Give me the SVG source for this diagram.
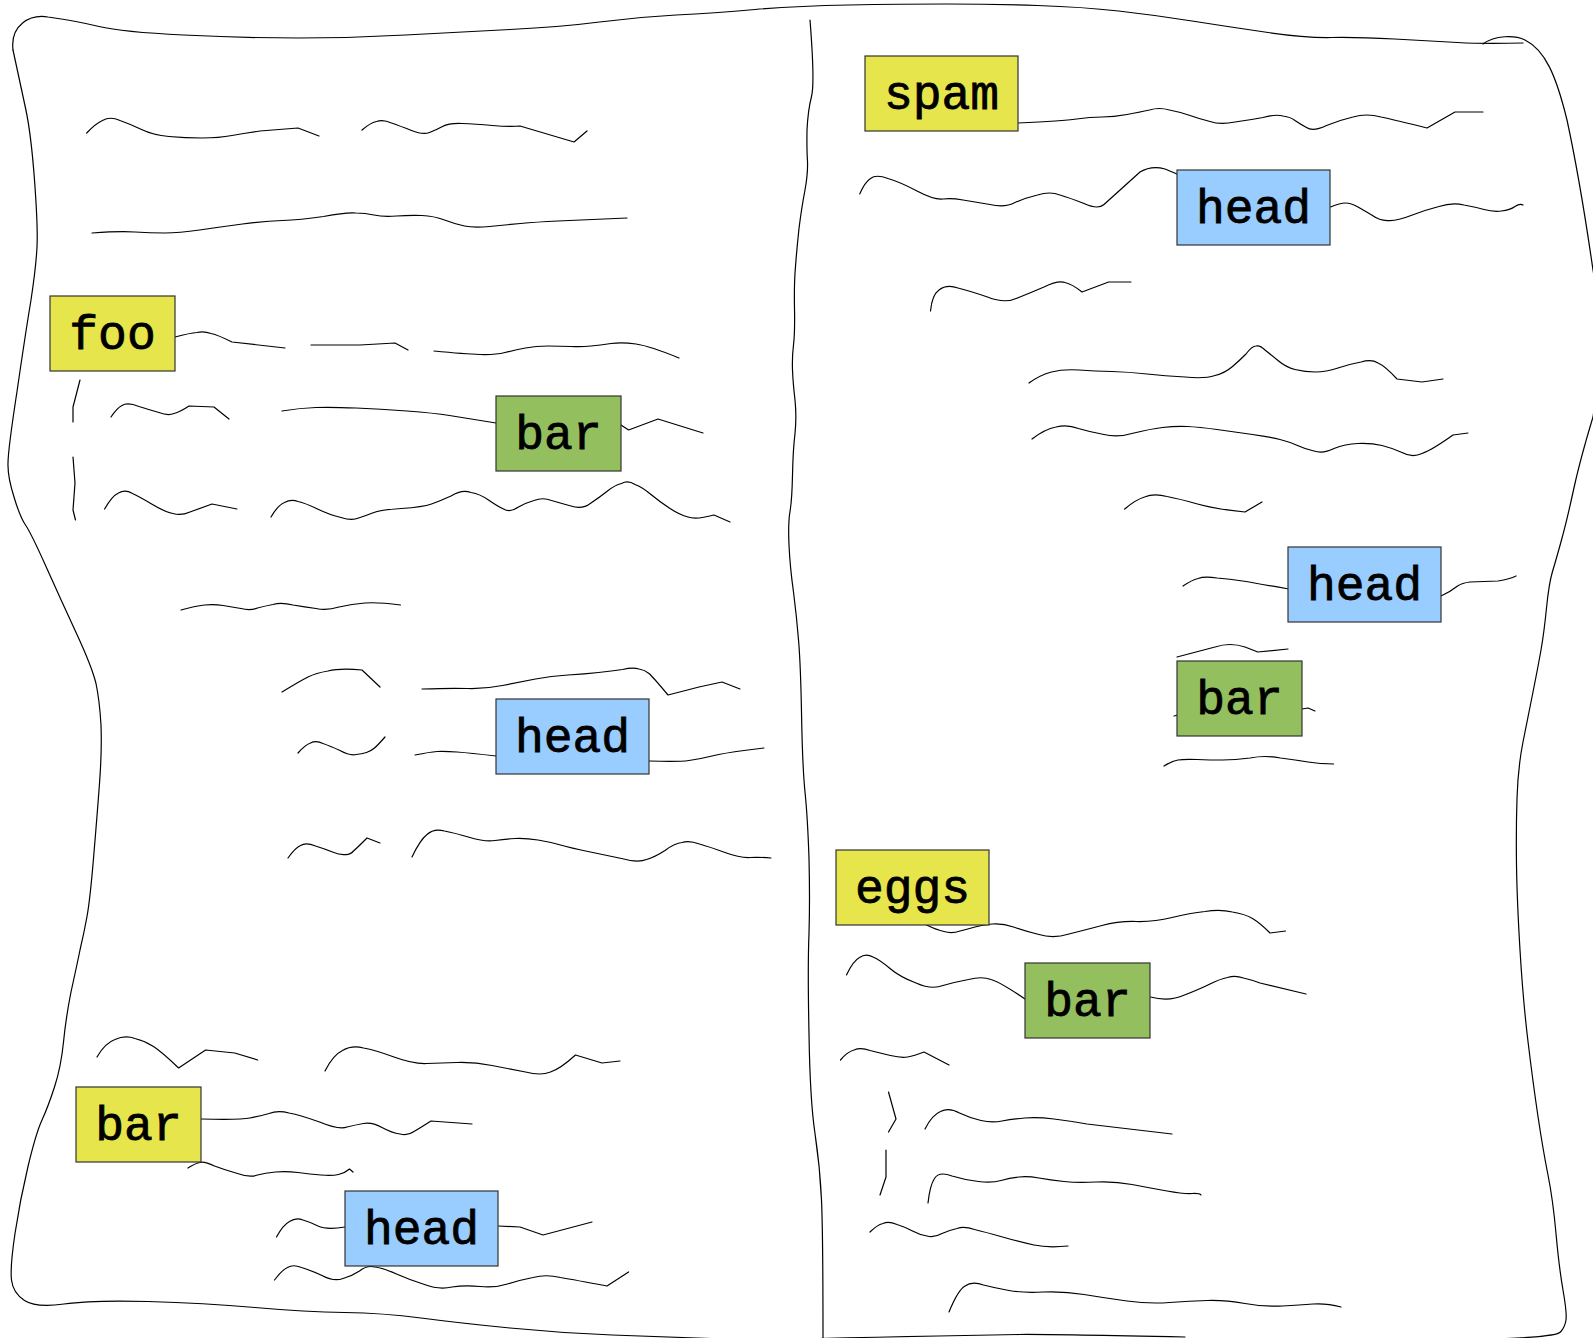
<svg xmlns="http://www.w3.org/2000/svg" width="1593" height="1338" viewBox="0 0 1593 1338">
<style>
.ln{fill:none;stroke:#000;stroke-width:1.2;stroke-linejoin:round;stroke-linecap:round}
.box{stroke:#333;stroke-width:1.2}
.y{fill:#e6e64c}.g{fill:#94bf5f}.b{fill:#99ccff}
.t{font-family:"Liberation Mono","Courier New",monospace;font-size:48px;fill:#000;stroke:#000;stroke-width:0.8;text-anchor:middle}
</style>
<rect width="1593" height="1338" fill="#fff"/>
<g id="frame" class="ln">
<path d="M13,50 C10,25 30,14 48,17 Q76.5,21 99,26.5 Q122,32 183.5,35 Q245,38 298.5,38 Q352,38 405.5,35 Q459,32 510,29.5 Q561,27 599.5,22 Q638,17 676,15 Q714,13 755,9.5 Q796,6 848.5,5 Q901,4 946.5,4 Q992,4 1037.5,5.5 Q1083,7 1118.5,11 Q1154,15 1192,21 Q1230,27 1268,32.5 Q1306,38 1331.5,37.5 Q1357,37 1394.5,39 Q1432,41 1457.5,42.5 Q1483,44 1523,43"/>
<path d="M1483,44 C1495,35 1515,35 1525,40 C1545,50 1556,75 1567,120 Q1580,180 1593,270 L1605,340 L1593,417 Q1580,460 1573.5,490 Q1567,520 1561.5,540 Q1556,560 1552.5,571.5 Q1549,583 1546.5,608 Q1544,633 1541,650 Q1538,667 1533,692 Q1528,717 1523,742 Q1518,767 1517,798.5 Q1516,830 1516.5,865 Q1517,900 1520,950 Q1523,1000 1528,1041.5 Q1533,1083 1538,1116.5 Q1543,1150 1548,1175 Q1553,1200 1556,1233.5 Q1559,1267 1563,1290 Q1567,1313 1566,1320 Q1565,1327 1560.5,1332 Q1556,1337 1495,1339"/>
<path d="M1185,1337 Q1038,1334 1019,1334.5 Q1000,1335 938,1336 Q876,1337 818,1338.5 Q760,1340 711.5,1338.5 Q663,1337 612,1335 Q561,1333 510,1328 Q459,1323 421,1318 Q383,1313 344.5,1312.5 Q306,1312 255,1307.5 Q204,1303 148,1301.5 Q92,1300 64,1304 Q36,1308 24.5,1300.5 Q13,1293 11.5,1280 Q10,1267 15,1233.5 Q20,1200 28,1166.5 Q36,1133 42,1120 Q48,1107 54.5,1087 Q61,1067 63.5,1042 Q66,1017 71,992 Q76.5,967 80,950 Q84,933 87,916.5 Q90,900 93.5,858.5 Q97,817 99.5,783.5 Q102,750 101,725 Q99.5,700 96,683.5 Q92,667 76.5,633.5 Q61,600 46,566.5 Q31,533 25.5,525 Q20,517 14,497 Q7.6,477 8,463.5 Q8,450 17,391.5 Q25.5,333 31,300 Q36,267 37,247 Q38,227 34.5,180 Q31,133 25.5,108 Q20,83 13,50"/>
<path d="M810,20 Q815,83 811.5,96.5 Q808,110 807,130 Q806.7,150 807.5,161.5 Q808,173 805,190 Q801.7,207 799,228.5 Q796.7,250 795.5,266.5 Q794,283 794.5,308 Q795,333 793.5,345 Q792,357 792.5,370 Q793,383 795,400 Q796.7,417 795,433.5 Q793,450 792.5,475 Q792,500 790,511.5 Q788,523 789,545 Q790,567 793.5,592 Q796.7,617 798.7,642 Q800.7,667 801.6,717 Q802.5,767 805,792 Q807.6,817 809,858.5 Q810,900 809,933.5 Q807.6,967 809,1033.5 Q810,1100 815,1133.5 Q820,1167 821.5,1200 Q823,1233 823,1338"/>
</g>
<g id="connectors" class="ln">
<path d="M86.7,133 Q95,124 102.5,120.5 Q110,116 120,120.5 Q130,124 141.5,129.5 Q153,135 169,136.5 Q185,138 202,138 Q219,138 232,135.5 Q245,133 260,131 L298,128 L319,136"/>
<path d="M362,130 Q370,123 376.5,121.5 Q383,119 391.5,123 Q400,126 411.5,130.5 Q423,135 429.5,132.5 Q436,130 442.5,126.5 Q449,123 462,123.5 Q475,124 492.5,125.5 Q510,127 520,126 L574,142 L587,131"/>
<path d="M92,233 Q120,231 135,232 Q150,233 164.5,233 Q179,233 199.5,230 Q220,227 242.5,224 Q265,221 282.5,220.5 Q300,220 323.5,216.5 Q347,212 356,213 Q365,213 374,215 Q383,217 396.5,216 Q410,215 422,215.5 Q434,216 444.5,220 Q455,224 464.5,226 Q474,228 489.5,226.5 Q505,225 520.5,223.5 Q536,222 558,221 Q580,220 627,218"/>
<path d="M175,337 Q190,333 197,332.5 Q204,331 211,333.5 Q218,335 232,342 L285,348"/>
<path d="M311,345 L360,345 Q378,344 395,343 L408,350"/>
<path d="M434,351 Q465,354 480,354.5 Q495,355 505,352.5 Q515,350 525.5,348 Q536,346 548,346 Q560,346 571,346.5 Q582,347 591,346 Q600,345 611,343.5 Q622,342 636,344 Q650,346 679,358"/>
<path d="M80,380 L73,407 L73,422"/>
<path d="M73,457 L75,483 L73,510 L75.5,520"/>
<path d="M111,417 Q117,408 122,405.5 Q127.5,402 139,406.5 Q150,410 159,412.5 Q168,416 174,413.5 Q180,412 189,406 L214,407 L229,419"/>
<path d="M282,411 Q300,408 316,407.5 Q332,407 356,408 Q380,409 407,411 Q434,413 449.5,415.5 L496,423"/>
<path d="M621,425 L628.6,430 L658,419 L703,433"/>
<path d="M104.6,509 Q112,496 118.5,493 Q125,489 132.5,493.5 Q140,497 152.5,504.5 Q165,512 173,513.5 Q181,516 190,512 L212,504 L237,509"/>
<path d="M271,517 Q278,505 284.5,502.5 Q291,499 298,501.5 Q305,503 317.5,509 Q330,515 341,517.5 Q352,521 358.5,518 Q365,516 372.5,513 Q380,510 401.5,508.5 Q423,507 431.5,504 Q440,501 451,496 Q462,489 471,492.5 Q480,494 488.5,500 Q497,506 503.5,509 Q510,513 517.5,507.5 Q525,503 534,500.5 Q543,497 551.5,500.5 Q560,503 571,506 Q582,510 591,503 Q600,497 607.5,491 Q615,485 621.5,483.5 Q628,480 635,484.5 Q642,487 651,494.5 Q660,502 670,508.5 Q680,515 688,517 Q696,520 714,515 L730,522"/>
<path d="M181,610 Q195,606 204.5,605 Q214,604 223,605.5 Q232,607 241,608.5 Q250,611 257.5,608 Q265,606 273,604.5 Q281,602 293,605 Q305,607 316,608.5 Q326.5,611 339,607 Q352,604 365,603 Q377.5,602 400.5,605"/>
<path d="M282,692 Q300,681 308,677 Q316,673 328,671 Q340,668 362,670 L380,687"/>
<path d="M422,689 Q450,688 467.5,688.5 Q485,689 502.5,685.5 Q520,682 535.5,679 Q551,676 568,675 Q585,674 598.5,672.5 Q612,671 622.5,669.5 Q633,667 639,669 Q645,670 649,673.5 Q653,677 668,695 L699,687 L722,682 L740,689"/>
<path d="M298,753 Q305,745 310.5,743 Q316,740 323,743.5 Q330,746 340,750.5 Q350,756 356,754.5 Q362,754 366.5,752.5 Q371,751 374.5,748 Q378,745 385,737"/>
<path d="M415,755 Q430,752 437,751.5 Q444,751 457,752 Q470,753 496,756"/>
<path d="M649.5,761 Q678.6,762 689,760.5 Q700,759 712,756 Q724.5,753 744,750.5 L764,748"/>
<path d="M288,858 Q295,848 300.5,845.5 Q306,842 315.5,846 Q325,849 332.5,852 Q340,855 345,854.5 Q350,855 353.5,851 Q357,848 367,838 L380,843"/>
<path d="M412,857 Q420,840 427,834.5 Q434,828 444.5,831 Q455,833 470,837.5 Q485,842 495,840.5 Q505,839 515,838.5 Q525.5,838 538,840 Q550,842 560.5,845 Q571,848 588,851.5 Q605,855 621.5,858.5 Q638,863 646.5,859.5 Q655,857 665,850.5 Q675,843 682,842.5 Q689,840 699.5,844 Q710,847 725,852.5 Q740,858 750,857.5 Q760,857 771,858"/>
<path d="M97,1057 Q105,1043 115,1039.5 Q125,1035 135,1038.5 Q145,1041 153.5,1046.5 Q162,1052 178.6,1068 L205.6,1050 L234.7,1053 L257.7,1060"/>
<path d="M325,1071 Q333,1055 342.5,1050.5 Q352,1045 363.5,1048 Q375,1050 394,1057 Q413,1064 426.5,1063.5 Q440,1063 457,1062.5 Q474.5,1062 492,1065.5 Q510,1069 525.5,1072 Q541,1076 550.5,1072 Q560,1069 575.5,1055 L602,1063 L620,1061"/>
<path d="M201.5,1119 Q240,1120 250,1118 Q260,1116 269,1113.5 Q278,1110 289,1113 Q300,1115 319.5,1122 Q339,1130 347,1127 Q355,1125 363.5,1123.5 Q372,1122 382,1127.5 Q392,1133 400,1134 Q408,1136 414,1131.5 Q420,1128 431,1121 L472,1124"/>
<path d="M188,1168 Q196,1163 200,1162.5 Q204,1161 214.5,1166 Q225,1170 237.5,1173.5 Q250,1178 257.5,1175 Q265,1173 275.5,1172 Q286,1171 298,1172.5 Q310,1174 321,1175 Q332,1176 338.5,1174.5 Q345,1173 349.5,1169 L353,1172"/>
<path d="M276.5,1237 Q283,1225 289.5,1221.5 Q296,1217 303,1220 Q310,1222 318,1226 Q326.5,1230 345,1227"/>
<path d="M498.5,1226 L520,1227 L543,1235 L592,1222"/>
<path d="M274.5,1280 Q282,1270 287.5,1267.5 Q293,1264 301.5,1267.5 Q310,1270 322,1275.5 Q334,1282 343,1278.5 Q352,1276 359.5,1271 Q367,1265 375,1267 Q383,1268 396.5,1274 Q410,1280 424.5,1284.5 Q439,1290 452,1287 Q465,1285 480,1286.5 Q495,1288 507.5,1284 Q520,1280 533,1277.5 Q546,1274 560.5,1277.5 Q575,1280 607,1286 L628.6,1272"/>
<path d="M1018,123 Q1063,121 1076.5,119 Q1090,117 1102,117 Q1113.6,117 1127,114.5 Q1140,112 1149.5,110 Q1159,107 1169.5,110 Q1180,112 1190,115.5 Q1200,119 1210,121.5 Q1220,125 1235,122 Q1250,120 1263,117.5 Q1275.5,114 1283,116 Q1290.6,117 1295,120.5 Q1300,124 1306.5,127.5 Q1313,132 1326.5,125.5 Q1340,120 1353,117 Q1366.5,113 1381,117 Q1395,120 1427,128 L1455,112 L1483,112"/>
<path d="M859.7,194 Q865,182 870.5,178.5 Q876,174 888,178.5 Q900,182 917,191 Q934,200 943,199 Q951.7,198 963,200 Q975,202 990,204.5 Q1005,208 1015,202.5 Q1025,198 1037.5,195 Q1050,191 1060,195 Q1070,198 1084,203.5 Q1098,210 1104,204.5 L1140,172 Q1151.5,165 1165,169 L1177,174"/>
<path d="M1330.6,207 Q1340,203 1345.5,203 Q1351,203 1358,207 Q1365,211 1372.5,215.5 Q1380,221 1388.5,220.5 Q1397,221 1411,215.5 Q1425,210 1439,206.5 Q1452.5,202 1464,205 Q1475,207 1484,209.5 Q1493,212 1501.5,211 Q1510,210 1515,206.5 Q1520,203 1523,205"/>
<path d="M930.5,311 Q932,295 939,290 Q946.7,284 958,288 Q970,291 987.5,297 Q1005,304 1017.5,298 Q1030,293 1044,287 Q1058,280 1065,282.5 Q1072,284 1082,292 L1108.6,282 L1131,282"/>
<path d="M1029,383 Q1040,375 1051.5,372 Q1063,369 1079,370 Q1095,371 1112,371.5 Q1129,372 1147,374 Q1165,376 1185,377 Q1204.6,379 1215,375.5 Q1225,373 1232.5,366.5 Q1240,360 1246,354 Q1252,346 1256,346 Q1260,345 1265,350 Q1270,354 1278,360.5 Q1285.6,367 1295,369.5 Q1305,372 1315.5,372 Q1326,372 1338,368 Q1350,364 1361,362 Q1371.6,359 1378,363 Q1385,366 1397,379 L1422,382 L1443,379"/>
<path d="M1032,439 Q1045,429 1056,427 Q1067,424 1078.5,428.5 Q1090,432 1104,434.5 Q1117.5,438 1134,433 Q1150,429 1162.5,427.5 Q1175,426 1187,426.5 Q1199,427 1217,429.5 Q1235,432 1252.5,434.5 Q1270,437 1280,439.5 Q1290,442 1297.5,445.5 Q1305,449 1314,451 Q1323,454 1334,448.5 Q1345,444 1358,443.5 Q1371.6,443 1382,445.5 Q1392,448 1402,452.5 Q1412,458 1422,453.5 Q1432,450 1453,435 L1468,433"/>
<path d="M1124.7,509 Q1135,500 1144.5,497 Q1154,493 1167,496.5 Q1180,499 1197.5,504 Q1215,509 1245,512 L1262,502"/>
<path d="M1183,586 Q1192,580 1198,578.5 Q1204.6,576 1217,578 Q1230,579 1242.5,581 Q1255,583 1288.6,589"/>
<path d="M1441,596 Q1450,592 1457.6,586 Q1462,583 1470,582 L1498,581 Q1510,579 1516,576"/>
<path d="M1177,657 L1215,647 Q1230,642 1245,647 L1257.8,652 L1288,649"/>
<path d="M1174,716 L1178,715"/>
<path d="M1302,709 L1308,708 L1315,711"/>
<path d="M1164,766 Q1172,761 1178,760 Q1184,759 1197,759.5 Q1210,760 1222.5,760 Q1235,760 1250,758 Q1265,755 1280.5,758 Q1296,760 1308,762 Q1320,764 1333.6,764"/>
<path d="M926.5,925 Q937,930 944,931.5 Q951.7,934 960,931 Q968,929 975,927 Q982,925 992,924 Q1002,923 1013.5,927 Q1025,931 1039,934.5 Q1053,939 1069,934 Q1085,930 1102,925.5 Q1118.7,921 1136,921.5 Q1154,922 1172,917.5 Q1190,913 1205,911.5 Q1220,909 1232.5,912 Q1245,914 1252.5,918.5 Q1260,923 1270,933 L1285.6,931"/>
<path d="M846.5,975 Q853,961 859.5,957.5 Q865.8,953 873,957 Q880,960 890,968.5 Q900,977 916,983 Q931.5,990 943,985.5 Q955,982 968.5,979.5 Q982,976 991,979.5 Q1000,982 1025,999"/>
<path d="M1150.5,997 Q1169,1002 1184.5,995 Q1200,989 1210,984 Q1220,979 1227.5,977.5 Q1235,975 1243.5,978 Q1252,980 1260,983 L1306,994"/>
<path d="M840.5,1060 Q847,1052 854,1050 Q860.7,1047 870,1050.5 Q880,1053 890.5,1055.5 Q901,1058 907.5,1057 Q914,1056 924,1052 L949,1065"/>
<path d="M888.5,1092 L896,1119 L888.5,1132"/>
<path d="M925,1129 Q932,1115 940.5,1111.5 Q949,1107 959.5,1113 Q970,1118 981,1120.5 Q992,1123 1002,1121 Q1012,1119 1025,1118 Q1037.7,1117 1054,1119 Q1070,1121 1087,1124 L1172,1134"/>
<path d="M886,1150 L886,1177 L880,1195"/>
<path d="M928,1203 Q930,1185 934.5,1178.5 Q939,1171 952,1176 Q965,1180 978.5,1181.5 Q992,1183 1001,1180.5 Q1010,1178 1019,1177 Q1027.6,1176 1039,1178 Q1050,1180 1064,1181.5 Q1078,1183 1096,1182 Q1113.6,1181 1132,1184.5 Q1150,1188 1167,1191 Q1184,1194 1192,1193.5 Q1199.6,1193 1201,1195"/>
<path d="M870,1232 Q877,1225 883,1223.5 Q888.5,1221 897,1224.5 Q905,1227 912.5,1231 Q920,1235 927,1236 Q934,1238 942,1233.5 Q950,1230 957,1228.5 Q964,1226 974.5,1229.5 Q985,1232 1002.5,1237 Q1020,1242 1034,1245 Q1048,1248 1068,1246"/>
<path d="M949,1312 Q958,1290 965,1286 Q972,1281 983.5,1285 Q995,1288 1009,1290.5 Q1022.6,1293 1043,1292 Q1063,1291 1084,1294.5 Q1105,1298 1127,1301 Q1149,1304 1169.5,1302.5 Q1190,1301 1207.5,1300.5 Q1225,1300 1245,1303.5 Q1265,1307 1282.5,1306 Q1300,1305 1313,1304 Q1326,1303 1341,1307"/>
</g>
<g id="node-spam"><rect class="box y" x="865" y="56" width="153" height="75"/><text class="t" x="941.5" y="109">spam</text></g>
<g id="node-head1"><rect class="box b" x="1177" y="170" width="153" height="75"/><text class="t" x="1253.5" y="223">head</text></g>
<g id="node-foo"><rect class="box y" x="50" y="296" width="125" height="75"/><text class="t" x="112.5" y="349">foo</text></g>
<g id="node-bar1"><rect class="box g" x="496" y="396" width="125" height="75"/><text class="t" x="558.5" y="449">bar</text></g>
<g id="node-head2"><rect class="box b" x="1288" y="547" width="153" height="75"/><text class="t" x="1364.5" y="600">head</text></g>
<g id="node-bar2"><rect class="box g" x="1177" y="661" width="125" height="75"/><text class="t" x="1239.5" y="714">bar</text></g>
<g id="node-head3"><rect class="box b" x="496" y="699" width="153" height="75"/><text class="t" x="572.5" y="752">head</text></g>
<g id="node-eggs"><rect class="box y" x="836" y="850" width="153" height="75"/><text class="t" x="912.5" y="903">eggs</text></g>
<g id="node-bar3"><rect class="box g" x="1025" y="963" width="125" height="75"/><text class="t" x="1087.5" y="1016">bar</text></g>
<g id="node-bar4"><rect class="box y" x="76" y="1087" width="125" height="75"/><text class="t" x="138.5" y="1140">bar</text></g>
<g id="node-head4"><rect class="box b" x="345" y="1191" width="153" height="75"/><text class="t" x="421.5" y="1244">head</text></g>
</svg>
